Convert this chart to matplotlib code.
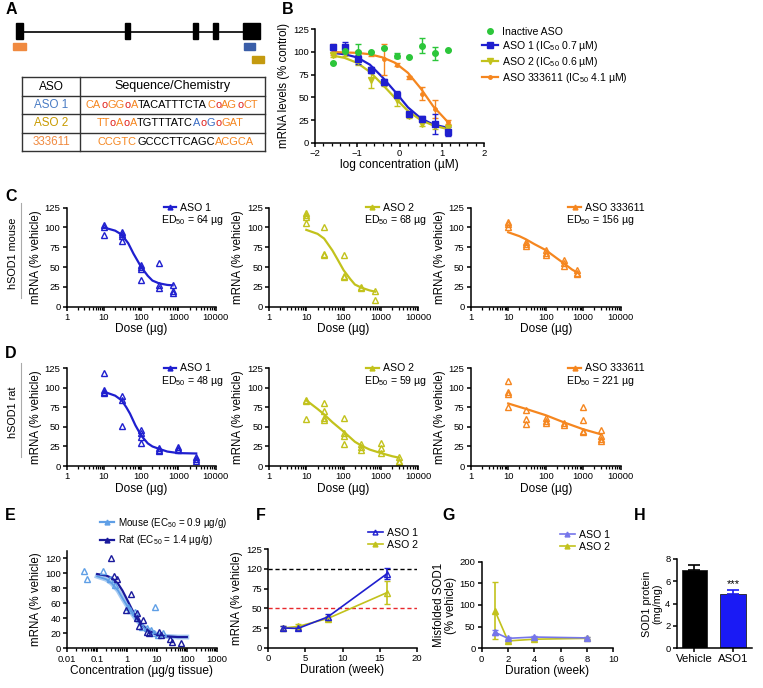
import numpy as np
import matplotlib
matplotlib.use('Agg')
import matplotlib.pyplot as plt
from matplotlib.lines import Line2D
from matplotlib.patches import Rectangle
from matplotlib.ticker import LogLocator, NullFormatter, MultipleLocator

plt.rcParams['font.family'] = ['Liberation Sans', 'DejaVu Sans']
plt.rcParams['mathtext.fontset'] = 'custom'
plt.rcParams['mathtext.rm'] = 'Liberation Sans'
plt.rcParams['mathtext.it'] = 'Liberation Sans:italic'

# colours
BLUE = '#1f1fcf'
YEL = '#c2c21c'
ORA = '#f5861f'
GRN = '#2cc63a'
MOUSE = '#5f9fe6'
RAT = '#1a1a9c'
G_ASO1 = '#7676ea'

# ---------------- data ----------------
# panel A table
aso_names = ['ASO 1', 'ASO 2', '333611']
aso_name_colors = ['#4a7cc4', '#c89a00', '#f08a40']
seq_aso1 = [('CA', ORA), ('o', '#e0201c'), ('GG', ORA), ('o', '#e0201c'), ('A', ORA),
            ('TACATTTCTA', 'black'), ('C', ORA), ('o', '#e0201c'), ('AG', ORA),
            ('o', '#e0201c'), ('CT', ORA)]
seq_aso2 = [('TT', ORA), ('o', '#e0201c'), ('A', ORA), ('o', '#e0201c'), ('A', ORA),
            ('TGTTTATC', 'black'), ('A', '#3a6cc4'), ('o', '#e0201c'), ('G', '#3a6cc4'),
            ('o', '#e0201c'), ('GAT', ORA)]
seq_333611 = [('CCGTC', ORA), ('GCCCTTCAGC', 'black'), ('ACGCA', ORA)]

# panel B (log concentration, uM)
b_x = [-1.58, -1.28, -0.98, -0.68, -0.37, -0.07, 0.23, 0.54, 0.84, 1.14]
b_inactive = [88, 101, 100, 99.5, 104, 96, 94, 107, 98.5, 102]
b_inactive_err = [0, 0, 9, 0, 0, 3, 0, 8, 7, 0]
b_aso1 = [105, 105, 92, 80, 67, 53, 32, 26, 20.5, 12]
b_aso1_err = [3, 6, 5, 3, 3, 4, 2, 3, 11, 5]
b_aso2 = [97, 99, 90, 69, 65, 47, 29, 21, 18, 16]
b_aso2_err = [2, 3, 4, 9, 3, 7, 2, 3, 3, 3]
b_333611 = [103, 101, 99, 98, 92, 86, 72, 54, 37, 23]
b_333611_err = [6, 2, 2, 2, 17, 2, 2, 7, 10, 2]
b_fit_x = [-1.58, -1.3, -1.0, -0.7, -0.4, -0.1, 0.2, 0.5, 0.8, 1.14]
b_fit_aso1 = [99, 97.5, 94, 86, 72, 56, 39, 27, 20, 16.5]
b_fit_aso2 = [96, 93.5, 88, 78, 64, 49, 35, 25, 19, 15]
b_fit_333611 = [100, 99.5, 99, 97.5, 94, 88, 77, 60, 40, 23]

# panel C: hSOD1 mouse
c1_dose = [10, 10, 10, 30, 30, 30, 30, 100, 100, 100, 100, 300, 300, 300, 700, 700, 700]
c1_val = [103, 101, 91, 94, 92, 89, 83, 53, 50, 47, 34, 55, 27, 23, 27, 20, 17]
c1_fit_x = [10, 20, 30, 45, 62, 100, 150, 200, 300, 500, 700]
c1_fit_y = [100, 96, 91, 80, 67, 50, 39, 33, 29.5, 27.5, 27]
c2_dose = [10, 10, 10, 10, 30, 30, 30, 100, 100, 100, 300, 300, 700, 700]
c2_val = [118, 116, 113, 106, 100, 67, 65, 65, 39, 37, 25, 23, 20, 8]
c2_fit_x = [10, 20, 30, 50, 70, 100, 150, 200, 300, 500, 700]
c2_fit_y = [97, 92, 86, 71, 59, 46, 35, 28, 24, 20.5, 19]
c3_dose = [10, 10, 10, 30, 30, 30, 100, 100, 100, 300, 300, 300, 700, 700, 700]
c3_val = [107, 104, 101, 82, 79, 77, 72, 68, 65, 59, 55, 51, 46, 43, 41]
c3_fit_x = [10, 20, 30, 50, 100, 200, 300, 500, 700]
c3_fit_y = [94, 89, 85, 79, 71.5, 61, 55, 47, 43]

# panel D: hSOD1 rat
d1_dose = [10, 10, 10, 10, 30, 30, 30, 100, 100, 100, 100, 300, 300, 300,
           1000, 1000, 1000, 3000, 3000, 3000]
d1_val = [119, 97, 95, 93, 89, 85, 51, 46, 42, 37, 30, 23, 21, 19, 24, 22, 20, 12, 9, 6]
d1_fit_x = [10, 20, 30, 40, 50, 70, 100, 150, 200, 300, 500, 1000, 3000]
d1_fit_y = [95, 90, 84, 75, 67, 52, 39, 29, 25, 22, 18.5, 16.5, 16]
d2_dose = [10, 10, 10, 30, 30, 30, 30, 100, 100, 100, 100, 300, 300, 300,
           1000, 1000, 1000, 3000, 3000, 3000]
d2_val = [85, 83, 60, 80, 70, 61, 59, 61, 42, 38, 28, 28, 24, 20, 29, 23, 17, 11, 6, 5]
d2_fit_x = [10, 20, 30, 50, 100, 200, 300, 500, 1000, 2000, 3000]
d2_fit_y = [84, 73, 66, 56, 44, 31, 26, 21, 16.5, 12.5, 10.7]
d3_dose = [10, 10, 10, 10, 30, 30, 30, 100, 100, 100, 300, 300,
           1000, 1000, 1000, 1000, 3000, 3000, 3000, 3000]
d3_val = [109, 95, 92, 75, 72, 60, 54, 62, 58, 55, 55, 53, 75, 59, 45, 43, 46, 38, 34, 32]
d3_fit_x = [10, 30, 100, 300, 1000, 3000]
d3_fit_y = [80, 73, 65, 56, 47, 40.5]

# panel E: concentration (ug/g tissue)
e_mouse_x = [0.037, 0.047, 0.16, 0.27, 0.39, 1.1, 1.3, 1.8, 3.1, 4.5, 6.2, 8, 8.6, 11, 16]
e_mouse_y = [103, 92, 103, 92, 84, 55, 51, 49, 29, 27, 24, 20, 55, 18, 20]
e_rat_x = [0.29, 0.36, 0.47, 0.92, 1.4, 2.1, 2.1, 2.6, 3.5, 4.5, 5.5, 12, 14, 27, 33, 66]
e_rat_y = [120, 96, 93, 51, 73, 47, 40, 30, 38, 22, 20, 22, 18, 13, 9, 7]
e_fit_x = [0.1, 0.2, 0.3, 0.5, 0.7, 1, 1.5, 2, 3, 5, 10, 20, 50, 100]
e_fit_mouse = [96, 92, 87, 77, 67, 57, 46, 39, 31, 24, 18.5, 16, 15, 15]
e_fit_rat = [99, 97, 94, 86, 77, 65, 51, 42, 32, 24, 18, 16, 15, 15]

# panel F: duration (week)
f_week = [2, 4, 8, 16]
f_aso1 = [25, 24.5, 39, 94]
f_aso1_err = [2, 2, 4, 7]
f_aso2 = [25, 27, 37, 70]
f_aso2_err = [2, 3, 3, 15]
f_ytick_labels = ['0', '25', '50', '75', '120', '125']

# panel G: misfolded SOD1
g_week = [1, 2, 4, 8]
g_aso1 = [37, 23, 26, 24]
g_aso1_err = [6, 2, 2, 2]
g_aso2 = [87, 17, 21, 23]
g_aso2_err = [65, 2, 2, 2]

# panel H: SOD1 protein
h_groups = ['Vehicle', 'ASO1']
h_vals = [7.0, 4.85]
h_errs = [0.45, 0.35]

# ---------------- figure ----------------
W, H = 763, 688
TICK_FS = 6.8
LAB_FS = 8.6
YLAB_FS = 8.3
LEG_FS = 7.6

fig = plt.figure(figsize=(W / 100, H / 100), dpi=100)


def add_ax(left, top, right, bottom):
    return fig.add_axes([left / W, 1 - bottom / H, (right - left) / W, (bottom - top) / H])


def style(ax):
    for s in ['top', 'right']:
        ax.spines[s].set_visible(False)
    for s in ['left', 'bottom']:
        ax.spines[s].set_linewidth(1.1)
    ax.tick_params(width=1.1, length=3, labelsize=TICK_FS, pad=1.5)
    ax.tick_params(which='minor', width=0.9, length=2)


def log_x(ax, lo, hi, labels):
    ax.set_xscale('log')
    ax.set_xlim(lo, hi)
    ticks = [lo * 10 ** i for i in range(len(labels))]
    ax.set_xticks(ticks)
    ax.set_xticklabels(labels)
    ax.xaxis.set_minor_locator(LogLocator(base=10, subs=np.arange(2, 10)))
    ax.xaxis.set_minor_formatter(NullFormatter())


def panel_label(x, y, s):
    fig.text(x / W, 1 - y / H, s, fontsize=11.5, fontweight='bold', ha='left', va='center')


def rainbow(ax, x, y, parts, fs):
    t = ax.text(x, y, parts[0][0], color=parts[0][1], fontsize=fs, va='center', ha='left')
    for s, c in parts[1:]:
        t = ax.annotate(s, xy=(1, 0), xycoords=t, va='bottom', ha='left',
                        color=c, fontsize=fs)


# ---- panel A ----
axA = fig.add_axes([0, 1 - 165 / H, 280 / W, 165 / H])
axA.set_xlim(0, 280)
axA.set_ylim(165, 0)
axA.axis('off')
axA.plot([20, 258], [31.5, 31.5], color='black', lw=1.2)
for x0, x1 in [(16, 22.5), (125, 130), (193, 198), (213, 218), (243, 260)]:
    axA.add_patch(Rectangle((x0, 23), x1 - x0, 16, color='black'))
axA.add_patch(Rectangle((13, 43), 12.5, 7, color='#f08a40'))
axA.add_patch(Rectangle((244, 43), 11, 7, color='#3a5ea8'))
axA.add_patch(Rectangle((252, 55.5), 12, 7, color='#c49a10'))
# table grid
tl, tr, tt, tb, tc = 22.3, 265, 76.7, 151, 80
for yy in [tt, 96, 114.3, 132.7, tb]:
    axA.plot([tl, tr], [yy, yy], color='#333333', lw=1.0)
for xx in [tl, tc, tr]:
    axA.plot([xx, xx], [tt, tb], color='#333333', lw=1.0)
axA.text((tl + tc) / 2, 86.5, 'ASO', ha='center', va='center', fontsize=8.6)
axA.text((tc + tr) / 2, 86.5, 'Sequence/Chemistry', ha='center', va='center', fontsize=9)
row_y = [105.2, 123.5, 141.9]
for name, col, yy in zip(aso_names, aso_name_colors, row_y):
    axA.text((tl + tc) / 2, yy, name, ha='center', va='center', fontsize=8.4, color=col)
rainbow(axA, 86, row_y[0], seq_aso1, 7.95)
rainbow(axA, 96.5, row_y[1], seq_aso2, 7.95)
rainbow(axA, 98, row_y[2], seq_333611, 7.95)

# ---- panel B ----
axB = add_ax(315, 29.3, 484, 142.7)
style(axB)
axB.plot(b_fit_x, b_fit_aso1, color=BLUE, lw=1.6)
axB.plot(b_fit_x, b_fit_aso2, color=YEL, lw=1.6)
axB.plot(b_fit_x, b_fit_333611, color=ORA, lw=1.6)
axB.errorbar(b_x, b_333611, yerr=b_333611_err, fmt='o', ms=2.5, color=ORA, capsize=2, elinewidth=1)
axB.errorbar(b_x, b_aso2, yerr=b_aso2_err, fmt='v', ms=4, color=YEL, capsize=2, elinewidth=1)
axB.errorbar(b_x, b_aso1, yerr=b_aso1_err, fmt='s', ms=4, color=BLUE, capsize=2, elinewidth=1)
axB.errorbar(b_x, b_inactive, yerr=b_inactive_err, fmt='o', ms=4, color=GRN, capsize=2, elinewidth=1)
axB.set_xlim(-2, 2)
axB.set_ylim(0, 125)
axB.set_xticks([-2, -1, 0, 1, 2])
axB.set_xticklabels(['\u22122', '\u22121', '0', '1', '2'])
axB.xaxis.set_minor_locator(MultipleLocator(0.2))
axB.set_yticks([0, 25, 50, 75, 100, 125])
axB.set_xlabel('log concentration (\u00b5M)', fontsize=LAB_FS, labelpad=1)
axB.set_ylabel('mRNA levels (% control)', fontsize=YLAB_FS, labelpad=2)
hB = [Line2D([], [], color=GRN, marker='o', ms=4, lw=0),
      Line2D([], [], color=BLUE, marker='s', ms=4, lw=1.6),
      Line2D([], [], color=YEL, marker='v', ms=4, lw=1.6),
      Line2D([], [], color=ORA, marker='o', ms=2.5, lw=1.6)]
axB.legend(hB, ['Inactive ASO', 'ASO 1 (IC$_{50}$ 0.7 \u00b5M)', 'ASO 2 (IC$_{50}$ 0.6 \u00b5M)',
                'ASO 333611 (IC$_{50}$ 4.1 \u00b5M)'],
           loc='center left', bbox_to_anchor=(0.99, 0.765), frameon=False, fontsize=LEG_FS,
           handlelength=1.5, handletextpad=0.4, labelspacing=0.2, borderpad=0, borderaxespad=0)

# ---- panels C and D ----
dose_labels = ['1', '10', '100', '1000', '10000']
rows = [
    (207.7, 306.7, [(c1_dose, c1_val, c1_fit_x, c1_fit_y, BLUE, 'ASO 1', '64'),
                    (c2_dose, c2_val, c2_fit_x, c2_fit_y, YEL, 'ASO 2', '68'),
                    (c3_dose, c3_val, c3_fit_x, c3_fit_y, ORA, 'ASO 333611', '156')]),
    (368.3, 466, [(d1_dose, d1_val, d1_fit_x, d1_fit_y, BLUE, 'ASO 1', '48'),
                  (d2_dose, d2_val, d2_fit_x, d2_fit_y, YEL, 'ASO 2', '59'),
                  (d3_dose, d3_val, d3_fit_x, d3_fit_y, ORA, 'ASO 333611', '221')]),
]
lefts = [(66.7, 215.7), (269, 418.3), (470.7, 620.7)]
for top, bottom, panels in rows:
    for (l, r), (dx, dy, fx, fy, col, name, ed) in zip(lefts, panels):
        ax = add_ax(l, top, r, bottom)
        style(ax)
        ax.plot(fx, fy, color=col, lw=1.6)
        ax.plot(dx, dy, linestyle='none', marker='^', ms=4.2, mfc='none', mec=col, mew=1.0)
        log_x(ax, 1, 10000, dose_labels)
        ax.set_ylim(0, 125)
        ax.set_yticks([0, 25, 50, 75, 100, 125])
        ax.set_xlabel('Dose (\u00b5g)', fontsize=LAB_FS, labelpad=1)
        ax.set_ylabel('mRNA (% vehicle)', fontsize=YLAB_FS, labelpad=2)
        h = Line2D([], [], color=col, marker='^', ms=3.5, lw=1.6)
        ax.legend([h], [name], loc='center left', bbox_to_anchor=(0.65, 1.0), frameon=False,
                  fontsize=LEG_FS, handlelength=1.2, handletextpad=0.4, borderpad=0,
                  borderaxespad=0)
        ax.text(0.635, 0.875, 'ED$_{50}$ = ' + ed + ' \u00b5g', transform=ax.transAxes,
                fontsize=LEG_FS, ha='left', va='center')

# row labels
fig.text(13 / W, 1 - 253 / H, 'hSOD1 mouse', rotation=90, fontsize=7.8, ha='center', va='center')
fig.text(13 / W, 1 - 412 / H, 'hSOD1 rat', rotation=90, fontsize=7.8, ha='center', va='center')
fig.add_artist(Line2D([21 / W, 21 / W], [1 - 203 / H, 1 - 298 / H], color='#aaaaaa', lw=0.8))
fig.add_artist(Line2D([21 / W, 21 / W], [1 - 363 / H, 1 - 457 / H], color='#aaaaaa', lw=0.8))

# ---- panel E ----
axE = add_ax(67.3, 550.8, 216.7, 648.3)
style(axE)
axE.plot(e_fit_x, e_fit_mouse, color=MOUSE, lw=3.5, alpha=0.55)
axE.plot(e_fit_x, e_fit_mouse, color=MOUSE, lw=1.3)
axE.plot(e_fit_x, e_fit_rat, color=RAT, lw=1.6)
axE.plot(e_mouse_x, e_mouse_y, linestyle='none', marker='^', ms=4.2, mfc='none', mec=MOUSE, mew=1.0)
axE.plot(e_rat_x, e_rat_y, linestyle='none', marker='^', ms=4.2, mfc='none', mec=RAT, mew=1.0)
log_x(axE, 0.01, 1000, ['0.01', '0.1', '1', '10', '100', '1000'])
axE.set_ylim(0, 130)
axE.set_yticks([0, 20, 40, 60, 80, 100, 120])
axE.set_xlabel('Concentration (\u00b5g/g tissue)', fontsize=LAB_FS, labelpad=1)
axE.set_ylabel('mRNA (% vehicle)', fontsize=YLAB_FS, labelpad=2)
hE = [Line2D([], [], color=MOUSE, marker='^', ms=3.5, lw=1.6),
      Line2D([], [], color=RAT, marker='^', ms=3.5, lw=1.6)]
axE.legend(hE, ['Mouse (EC$_{50}$ = 0.9 \u00b5g/g)', 'Rat (EC$_{50}$ = 1.4 \u00b5g/g)'],
           loc='center left', bbox_to_anchor=(0.22, 1.2), frameon=False, fontsize=7.1,
           handlelength=1.4, handletextpad=0.4, labelspacing=0.35, borderpad=0, borderaxespad=0)

# ---- panel F ----
axF = add_ax(268.3, 549.3, 416.7, 647.7)
style(axF)
axF.axhline(100, color='black', lw=1.0, ls=(0, (3, 2)))
axF.axhline(50, color='#e8282c', lw=1.0, ls=(0, (3, 2)))
axF.errorbar(f_week, f_aso2, yerr=f_aso2_err, color=YEL, marker='^', ms=4.5, mfc='none',
             mew=1.0, lw=1.2, capsize=2.5, elinewidth=1.2)
axF.errorbar(f_week, f_aso1, yerr=f_aso1_err, color=BLUE, marker='^', ms=4.5, mfc='none',
             mew=1.0, lw=1.2, capsize=2.5, elinewidth=1.2)
axF.set_xlim(0, 20)
axF.set_xticks([0, 5, 10, 15, 20])
axF.set_ylim(0, 125)
axF.set_yticks([0, 25, 50, 75, 100, 125])
axF.set_yticklabels(f_ytick_labels)
axF.set_xlabel('Duration (week)', fontsize=LAB_FS, labelpad=1)
axF.set_ylabel('mRNA (% vehicle)', fontsize=YLAB_FS, labelpad=2)
hF = [Line2D([], [], color=BLUE, marker='^', ms=3.5, mfc='none', lw=1.2),
      Line2D([], [], color=YEL, marker='^', ms=3.5, lw=1.2)]
axF.legend(hF, ['ASO 1', 'ASO 2'], loc='center left', bbox_to_anchor=(0.67, 1.105),
           frameon=False, fontsize=LEG_FS, handlelength=1.4, handletextpad=0.4, labelspacing=0.15,
           borderpad=0, borderaxespad=0)

# ---- panel G ----
axG = add_ax(481.7, 561.7, 613.3, 648.3)
style(axG)
axG.errorbar(g_week, g_aso2, yerr=g_aso2_err, color=YEL, marker='^', ms=4,
             lw=1.2, capsize=2.5, elinewidth=1.2)
axG.errorbar(g_week, g_aso1, yerr=g_aso1_err, color=G_ASO1, marker='^', ms=4,
             lw=1.2, capsize=2.5, elinewidth=1.2)
axG.set_xlim(0, 10)
axG.set_xticks([0, 2, 4, 6, 8, 10])
axG.set_ylim(0, 200)
axG.set_yticks([0, 50, 100, 150, 200])
axG.set_xlabel('Duration (week)', fontsize=LAB_FS, labelpad=1)
axG.set_ylabel('Misfolded SOD1\n(% vehicle)', fontsize=YLAB_FS, labelpad=2, linespacing=1.0)
hG = [Line2D([], [], color=G_ASO1, marker='^', ms=3.5, lw=1.2),
      Line2D([], [], color=YEL, marker='^', ms=3.5, lw=1.2)]
axG.legend(hG, ['ASO 1', 'ASO 2'], loc='center left', bbox_to_anchor=(0.595, 1.24),
           frameon=False, fontsize=LEG_FS, handlelength=1.4, handletextpad=0.4, labelspacing=0.15,
           borderpad=0, borderaxespad=0)

# ---- panel H ----
axH = add_ax(676.7, 559, 751.7, 648)
style(axH)
h_colors = ['black', '#1a1af5']
xs = np.arange(len(h_groups))
axH.bar(xs, h_vals, width=0.667, color=h_colors, edgecolor='#222222', lw=0.6)
for xi, v, e, c in zip(xs, h_vals, h_errs, h_colors):
    axH.errorbar([xi], [v], yerr=[[0], [e]], color=c, capsize=4, elinewidth=1.2, capthick=1.2)
axH.text(1, h_vals[1] + h_errs[1] + 0.1, '***', ha='center', va='bottom', fontsize=8)
axH.set_xlim(-0.46, 1.49)
axH.set_xticks(xs)
axH.set_xticklabels(h_groups, fontsize=8.2)
axH.set_ylim(0, 8)
axH.set_yticks([0, 2, 4, 6, 8])
axH.set_ylabel('SOD1 protein\n(mg/mg)', fontsize=7.8, labelpad=2, linespacing=1.0)

# panel letters
for s, x, y in [('A', 6, 10), ('B', 282, 9), ('C', 5, 196), ('D', 5, 353),
                ('E', 5, 515), ('F', 256, 515), ('G', 442, 515), ('H', 634, 515)]:
    panel_label(x, y, s)

fig.savefig('out.png', dpi=100)
